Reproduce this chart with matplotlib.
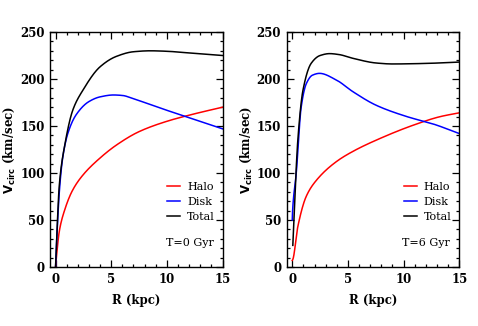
import matplotlib
matplotlib.use("Agg")
import matplotlib.pyplot as plt
import numpy as np
from matplotlib.ticker import MultipleLocator

# Left panel (T=0 Gyr)
r0_halo = [0, 0.05, 0.35, 0.8, 1.5, 2.4, 4, 5.5, 7.5, 10, 12.5, 15]
v0_halo = [0, 7, 39, 60, 81, 97, 116, 130, 144, 155, 163, 170]
r0_disk = [0, 0.05, 0.35, 0.65, 1.1, 1.85, 3, 4, 5.2, 6, 7, 9.3, 11.7, 15]
v0_disk = [0, 15, 82, 117, 142, 162, 176, 181, 183, 182.5, 179, 169.5, 160, 147]
r0_tot = [0, 0.05, 0.35, 0.8, 1.55, 2.45, 4, 5.45, 7, 8.5, 10, 11.7, 15]
v0_tot = [0, 15, 89, 128, 167, 188, 213, 224, 229, 230, 229.5, 228, 225]

# Right panel (T=6 Gyr)
r6_halo = [0, 0.05, 0.5, 1.25, 2.15, 3.95, 5.45, 7.55, 10.9, 13.3, 15]
v6_halo = [7, 8, 43, 75, 92, 112, 123, 135, 151, 160, 164]
r6_disk = [0, 0.03, 0.36, 0.8, 1.26, 1.8, 2.45, 3.95, 5.45, 7.55, 10.3, 12.7, 15]
v6_disk = [50, 60, 100, 170, 195, 204, 206, 199, 186.5, 172, 160, 152, 142]
r6_tot = [0.05, 0.5, 0.96, 1.7, 2.5, 3.35, 4.2, 5.45, 7.55, 9, 11.8, 15]
v6_tot = [23, 135, 188, 216.7, 225, 227, 226, 222, 217, 216, 216.5, 218]

labels = ["Halo", "Disk", "Total"]
colors = ["red", "blue", "black"]
panels = [
    ("T=0 Gyr", [(r0_halo, v0_halo), (r0_disk, v0_disk), (r0_tot, v0_tot)]),
    ("T=6 Gyr", [(r6_halo, v6_halo), (r6_disk, v6_disk), (r6_tot, v6_tot)]),
]

def smooth(r, v):
    r = np.asarray(r, float); v = np.asarray(v, float)
    rr = np.linspace(r[0], r[-1], 600)
    h = np.diff(r); d = np.diff(v) / h
    m = np.zeros_like(v)
    for i in range(1, len(r) - 1):
        if d[i-1] * d[i] > 0:
            w1 = 2*h[i] + h[i-1]; w2 = h[i] + 2*h[i-1]
            m[i] = (w1 + w2) / (w1/d[i-1] + w2/d[i])
    m[0] = d[0]; m[-1] = d[-1]
    idx = np.clip(np.searchsorted(r, rr) - 1, 0, len(r) - 2)
    t = (rr - r[idx]) / h[idx]
    h00 = 2*t**3 - 3*t**2 + 1; h10 = t**3 - 2*t**2 + t
    h01 = -2*t**3 + 3*t**2; h11 = t**3 - t**2
    vv = h00*v[idx] + h10*h[idx]*m[idx] + h01*v[idx+1] + h11*h[idx]*m[idx+1]
    return rr, vv

fig = plt.figure(figsize=(4.78, 3.26), dpi=100)
lefts = [50/478, 286.7/478]
serif = "DejaVu Serif"
for k, (tlabel, series) in enumerate(panels):
    ax = fig.add_axes([lefts[k], 1 - 267/326, 172.5/478, 235/326])
    for (r, v), lab, c in zip(series, labels, colors):
        rr, vv = smooth(r, v)
        ax.plot(rr, vv, color=c, lw=1.1, label=lab)
    ax.set_xlim(-0.5, 15)
    ax.set_ylim(0, 250)
    ax.xaxis.set_major_locator(MultipleLocator(5))
    ax.xaxis.set_minor_locator(MultipleLocator(1))
    ax.yaxis.set_major_locator(MultipleLocator(50))
    ax.yaxis.set_minor_locator(MultipleLocator(10))
    ax.tick_params(which="both", direction="in", top=True, right=True, width=0.9)
    ax.tick_params(which="major", length=5, labelsize=8.5, pad=4)
    ax.tick_params(which="minor", length=2.5)
    for s in ax.spines.values():
        s.set_linewidth(1.0)
    for lbl in ax.get_xticklabels() + ax.get_yticklabels():
        lbl.set_family(serif); lbl.set_weight("bold")
    ax.set_xlabel("R (kpc)", family=serif, weight="bold", fontsize=8.5, labelpad=6)
    ax.set_ylabel(r"$\mathbf{V_{circ}}$ (km/sec)", family=serif, weight="bold",
                  fontsize=8.5, labelpad=2)
    ax.legend(loc="lower right", bbox_to_anchor=(1.0, 0.16), frameon=False,
              prop={"family": serif, "size": 8}, handlelength=1.2,
              handletextpad=0.6, labelspacing=0.45, borderaxespad=0.3)
    ax.text(0.67, 0.1, tlabel, transform=ax.transAxes, family=serif, fontsize=8,
            ha="left", va="center")

fig.savefig("out.png", dpi=100)
